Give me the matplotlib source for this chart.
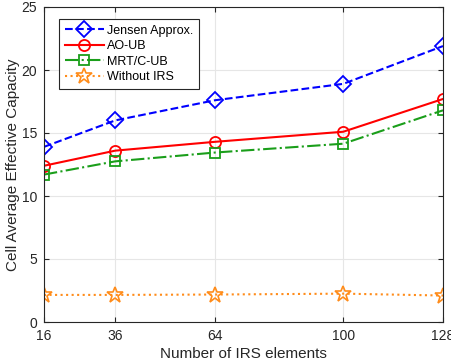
import numpy as np
import matplotlib
matplotlib.use('Agg')
from matplotlib import pyplot as plt

plt.rcParams['font.family'] = ['Liberation Sans', 'DejaVu Sans']

# data
n_elements = [16, 36, 64, 100, 128]
jensen = [13.9, 16.0, 17.6, 18.9, 21.9]
ao_ub = [12.4, 13.6, 14.3, 15.1, 17.7]
mrt_ub = [11.7, 12.75, 13.45, 14.15, 16.8]
no_irs = [2.15, 2.15, 2.18, 2.25, 2.1]

fig = plt.figure(figsize=(4.52, 3.64), dpi=100)
ax = fig.add_axes([44/452, 1-322/364, (443-44)/452, (322-7)/364])

ax.plot(n_elements, jensen, '--', color='#0000FF', marker='D', mfc='none',
        ms=8, mew=1.3, lw=1.5, label='Jensen Approx.')
ax.plot(n_elements, ao_ub, '-', color='#FF0000', marker='o', mfc='none',
        ms=8, mew=1.3, lw=1.5, label='AO-UB')
ax.plot(n_elements, mrt_ub, '-.', color='#1A9E1A', marker='s', mfc='none',
        ms=7, mew=1.3, lw=1.5, label='MRT/C-UB')
ax.plot(n_elements, no_irs, ':', color='#FF8C1A', marker='*', mfc='none',
        ms=12, mew=1.2, lw=1.5, label='Without IRS')

ax.set_xlim(16, 128)
ax.set_ylim(0, 25)
ax.set_xticks(n_elements)
ax.set_yticks([0, 5, 10, 15, 20, 25])
ax.grid(True, color='#E6E6E6', lw=0.8)
ax.tick_params(direction='in', labelsize=10, colors='#262626', top=True, right=True, pad=5)
for s in ax.spines.values():
    s.set_color('#262626')
ax.set_xlabel('Number of IRS elements', fontsize=11, color='#262626', labelpad=3)
ax.set_ylabel('Cell Average Effective Capacity', fontsize=11, color='#262626', labelpad=1)

leg = ax.legend(loc='upper left', bbox_to_anchor=(0.038, 0.962), fontsize=9,
                fancybox=False, edgecolor='#262626', framealpha=1,
                handlelength=3.1, borderpad=0.45, labelspacing=0.28,
                handletextpad=0.3, borderaxespad=0)
leg.get_frame().set_linewidth(0.8)

fig.savefig('out.png', dpi=100)
